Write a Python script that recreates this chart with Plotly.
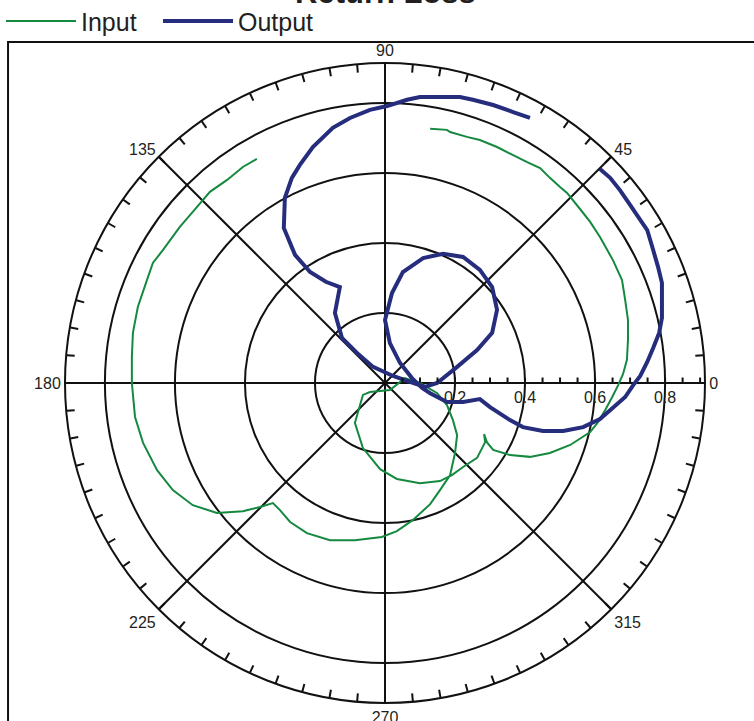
import numpy as np
import plotly.graph_objects as go

output_re = [0.414, 0.366, 0.309, 0.251, 0.214, 0.157, 0.100, 0.063, 0.006, -0.043,
             -0.100, -0.149, -0.206, -0.243, -0.266, -0.286, -0.289, -0.257, -0.214, -0.169,
             -0.129, -0.143, -0.123, -0.080, -0.034, 0.023, 0.071, 0.114, 0.149, 0.206,
             0.263, 0.306, 0.320, 0.306, 0.271, 0.223, 0.166, 0.109, 0.051, 0.020,
             0.000, 0.014, 0.043, 0.077, 0.106, 0.129, 0.177, 0.223, 0.271, 0.300,
             0.357, 0.394, 0.451, 0.509, 0.566, 0.614, 0.651, 0.686, 0.709, 0.729,
             0.749, 0.766, 0.783, 0.791, 0.791, 0.791, 0.780, 0.766, 0.749, 0.729,
             0.700, 0.671, 0.643, 0.614]
output_im = [0.757, 0.774, 0.794, 0.809, 0.817, 0.817, 0.817, 0.809, 0.791, 0.780,
             0.757, 0.729, 0.674, 0.623, 0.586, 0.529, 0.443, 0.366, 0.317, 0.289,
             0.274, 0.200, 0.129, 0.086, 0.046, 0.020, 0.003, -0.011, 0.000, 0.046,
             0.094, 0.143, 0.209, 0.274, 0.323, 0.360, 0.369, 0.357, 0.317, 0.257,
             0.180, 0.114, 0.057, 0.014, -0.014, -0.029, -0.054, -0.054, -0.046, -0.069,
             -0.106, -0.126, -0.137, -0.137, -0.126, -0.103, -0.071, -0.040, -0.006, 0.020,
             0.060, 0.100, 0.143, 0.186, 0.237, 0.286, 0.331, 0.380, 0.437, 0.466,
             0.509, 0.551, 0.586, 0.611]

input_re = [0.129, 0.177, 0.186, 0.234, 0.271, 0.320, 0.366, 0.406, 0.443, 0.471,
            0.500, 0.520, 0.557, 0.586, 0.614, 0.651, 0.677, 0.686, 0.694, 0.694,
            0.691, 0.680, 0.666, 0.649, 0.629, 0.609, 0.586, 0.529, 0.471, 0.414,
            0.357, 0.309, 0.291, 0.283, 0.286, 0.263, 0.223, 0.191, 0.157, 0.100,
            0.034, -0.014, -0.063, -0.086, -0.063, -0.043, 0.014, 0.057, 0.100, 0.149,
            0.177, 0.194, 0.206, 0.200, 0.186, 0.157, 0.129, 0.080, 0.034, -0.009,
            -0.086, -0.157, -0.223, -0.271, -0.300, -0.320, -0.357, -0.406, -0.480, -0.549,
            -0.606, -0.651, -0.691, -0.714, -0.723, -0.723, -0.720, -0.706, -0.680, -0.663,
            -0.634, -0.586, -0.549, -0.500, -0.451, -0.406, -0.366]
input_im = [0.726, 0.723, 0.717, 0.703, 0.694, 0.674, 0.651, 0.631, 0.614, 0.586,
            0.560, 0.543, 0.497, 0.460, 0.417, 0.351, 0.294, 0.237, 0.180, 0.123,
            0.066, 0.026, -0.006, -0.040, -0.077, -0.111, -0.140, -0.177, -0.200, -0.211,
            -0.206, -0.191, -0.169, -0.146, -0.169, -0.214, -0.240, -0.263, -0.280, -0.286,
            -0.274, -0.246, -0.186, -0.114, -0.034, -0.026, -0.020, 0.014, 0.000, -0.029,
            -0.063, -0.106, -0.149, -0.200, -0.263, -0.306, -0.346, -0.391, -0.423, -0.440,
            -0.449, -0.449, -0.429, -0.397, -0.363, -0.343, -0.354, -0.366, -0.371, -0.349,
            -0.306, -0.249, -0.171, -0.097, 0.000, 0.074, 0.143, 0.217, 0.294, 0.343,
            0.380, 0.446, 0.489, 0.546, 0.580, 0.617, 0.640]

angle_ticks = [0, 45, 90, 135, 180, 225, 270, 315]
angle_labels = ["0", "45", "90", "135", "180", "225", "270", "315"]
radial_ticks = [0.2, 0.4, 0.6, 0.8]
radial_labels = ["0.2", "0.4", "0.6", "0.8"]
radial_minor = [round(v, 2) for v in np.arange(0.05, 0.91, 0.05)]
angle_minor = list(range(0, 360, 5))
r_max = 0.914


def to_polar(re, im):
    re = np.asarray(re, dtype=float)
    im = np.asarray(im, dtype=float)
    return np.hypot(re, im), np.degrees(np.arctan2(im, re))


in_r, in_t = to_polar(input_re, input_im)
out_r, out_t = to_polar(output_re, output_im)

GREEN = "#15893f"
NAVY = "#252d7c"
FONT = "Liberation Sans, Arial, sans-serif"
INK = "#231f20"

fig = go.Figure()
fig.add_trace(go.Scatterpolar(r=in_r, theta=in_t, mode="lines", name="Input",
                              line=dict(color=GREEN, width=2), subplot="polar"))
fig.add_trace(go.Scatterpolar(r=out_r, theta=out_t, mode="lines", name="Output",
                              line=dict(color=NAVY, width=4), subplot="polar"))
fig.add_trace(go.Scatterpolar(r=[], theta=[], mode="lines", showlegend=False,
                              hoverinfo="skip", subplot="polar2"))

fig.update_layout(
    width=754, height=721,
    margin=dict(l=65, r=49, t=63, b=18, autoexpand=False),
    paper_bgcolor="white",
    font=dict(family=FONT, size=16, color=INK),
    showlegend=True,
    legend=dict(orientation="h", x=-0.1, xanchor="left", y=1.101, yanchor="top",
                font=dict(size=25, color=INK), itemwidth=70,
                entrywidth=72, entrywidthmode="pixels",
                bgcolor="rgba(0,0,0,0)"),
    polar=dict(
        domain=dict(x=[0, 1], y=[0, 1]),
        bgcolor="white",
        radialaxis=dict(range=[0, r_max], tickmode="array", tickvals=radial_ticks,
                        ticktext=radial_labels, ticks="", angle=0, side="clockwise",
                        tickangle=0, showline=True, linecolor="#111", linewidth=2,
                        showgrid=True, gridcolor="#111", gridwidth=1.8,
                        layer="below traces", tickfont=dict(size=16)),
        angularaxis=dict(tickmode="array", tickvals=angle_ticks, ticktext=angle_labels,
                         ticks="", showline=True, linecolor="#111", linewidth=2,
                         showgrid=True, gridcolor="#111", gridwidth=1.8,
                         direction="counterclockwise", rotation=0,
                         layer="below traces", tickfont=dict(size=16)),
    ),
    polar2=dict(
        domain=dict(x=[0, 1], y=[0, 1]),
        bgcolor="rgba(0,0,0,0)",
        radialaxis=dict(range=[0, r_max], tickmode="array", tickvals=radial_minor,
                        ticks="outside", ticklen=5, tickwidth=1.5, tickcolor="#111",
                        showticklabels=False, showgrid=False, showline=False,
                        angle=0, side="counterclockwise"),
        angularaxis=dict(tickmode="array", tickvals=angle_minor, ticks="inside",
                         ticklen=8, tickwidth=1.5, tickcolor="#111",
                         showticklabels=False, showgrid=False, showline=False,
                         direction="counterclockwise", rotation=0),
    ),
    shapes=[dict(type="rect", xref="paper", yref="paper",
                 x0=-0.089, x1=1.3, y0=-0.2, y1=1.0328,
                 line=dict(color="#111", width=2), fillcolor="rgba(0,0,0,0)",
                 layer="below")],
    annotations=[dict(text="<b>Return Loss</b>", xref="paper", yref="paper",
                      x=0.5, y=1.080, xanchor="center", yanchor="bottom",
                      showarrow=False, font=dict(size=31, color=INK, family=FONT))],
)

fig.write_html("out.html", config={"displayModeBar": False},
               post_script="document.body.style.margin='0px';")
